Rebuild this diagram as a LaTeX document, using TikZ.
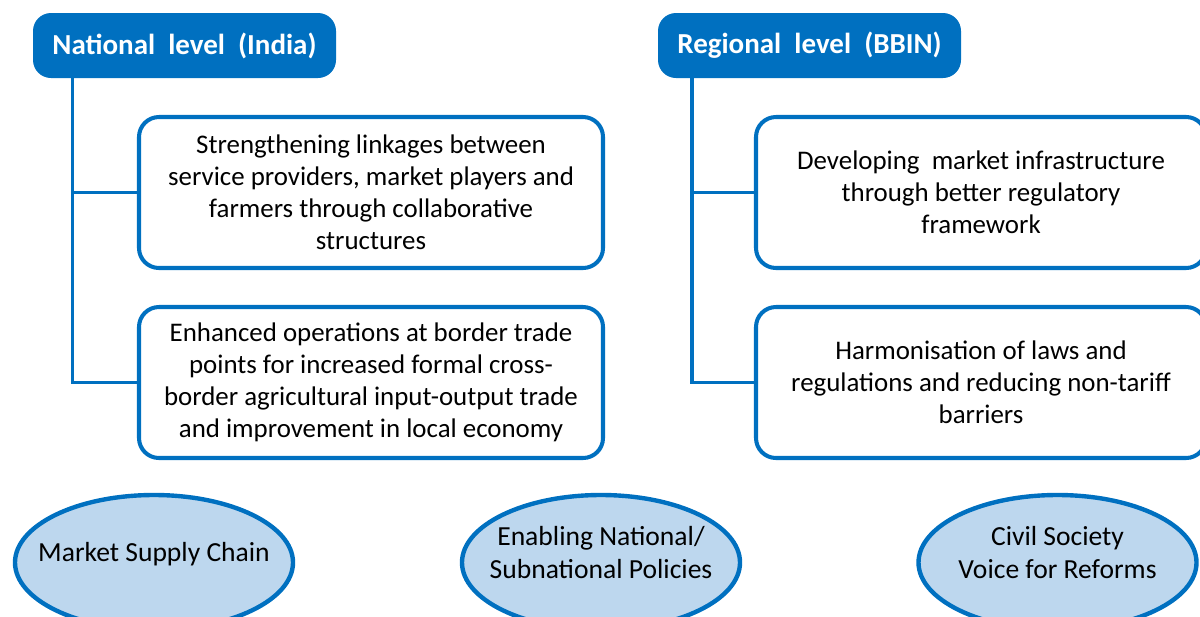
\documentclass[tikz,border=0pt]{standalone}
\usepackage{fontspec}
\setmainfont{Carlito}
\usetikzlibrary{shapes.geometric}

\definecolor{bbinblue}{HTML}{0070C0}
\definecolor{ovalfill}{HTML}{BDD7EE}

% oval labels sit a little above the centre of the ellipse
\newcommand{\ovaltext}[1]{\raisebox{0.5pt}[0pt][0pt]{\begin{tabular}{@{}c@{}}#1\end{tabular}}}

\begin{document}
\begin{tikzpicture}[
  head/.style={fill=bbinblue,draw=none,rounded corners=0.36cm,text=white,
    font=\fontsize{16.5}{18}\selectfont\bfseries,minimum width=6.06cm,minimum height=1.3cm},
  item/.style={draw=bbinblue,line width=2.3pt,rounded corners=0.4cm,fill=white,
    align=center,font=\fontsize{15.3}{18.2}\selectfont,inner sep=0pt},
  trunk/.style={draw=bbinblue,line width=1.8pt},
  oval/.style={ellipse,draw=bbinblue,line width=2.5pt,fill=ovalfill,
    font=\fontsize{15.7}{18.6}\selectfont,minimum width=5.56cm,minimum height=2.7cm,inner sep=-2cm}]

\useasboundingbox (0,0) rectangle (24,-12.32);
\clip (0,0) rectangle (24,-12.32);

% headers
\node[head] (nat) at (3.69,-0.91) {National\ \ level\ \ (India)};
\node[head] (reg) at (16.19,-0.91) {Regional\ \ level\ \ (BBIN)};

% national items
\node[item,minimum width=9.28cm,minimum height=3.02cm] (ni1) at (7.42,-3.85)
  {Strengthening linkages between\\service providers, market players and\\farmers through collaborative\\structures};
\node[item,minimum width=9.28cm,minimum height=3.02cm] (ni2) at (7.42,-7.65)
  {Enhanced operations at border trade\\points for increased formal cross-\\border agricultural input-output trade\\and improvement in local economy};

% regional items
\node[item,minimum width=9cm,minimum height=3.02cm] (ri1) at (19.62,-3.85)
  {Developing\ \ market infrastructure\\through better regulatory\\framework};
\node[item,minimum width=9cm,minimum height=3.02cm] (ri2) at (19.62,-7.65)
  {Harmonisation of laws and\\regulations and reducing non-tariff\\barriers};

% trunks
\coordinate (natTrunk) at (1.45,0);
\coordinate (regTrunk) at (13.84,0);
\draw[trunk] (nat.south -| natTrunk) |- (ni2.west);
\draw[trunk] (ni1.west) -- (ni1.west -| natTrunk);
\draw[trunk] (reg.south -| regTrunk) |- (ri2.west);
\draw[trunk] (ri1.west) -- (ri1.west -| regTrunk);

% ovals
\node[oval] (supply) at (3.08,-11.25) {\ovaltext{Market Supply Chain}};
\node[oval] (policy) at (12.02,-11.25) {\ovaltext{Enabling National/\\Subnational Policies}};
\node[oval] (civil) at (21.15,-11.25) {\ovaltext{Civil Society\\Voice for Reforms}};

\end{tikzpicture}
\end{document}
